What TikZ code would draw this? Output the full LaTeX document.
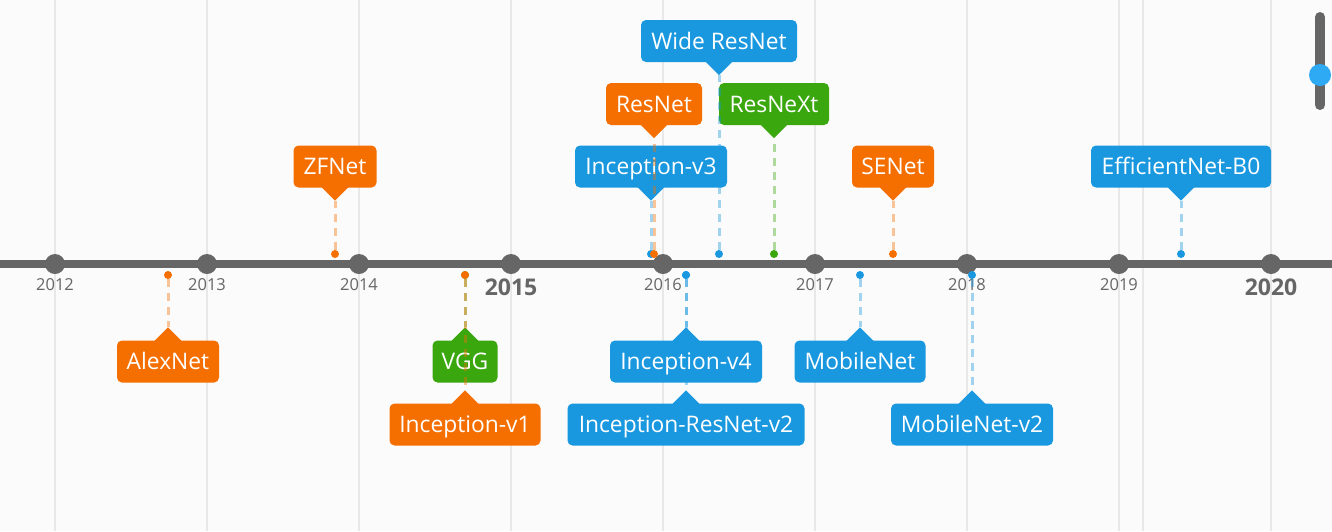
\documentclass[tikz,border=0pt]{standalone}
\usepackage{fontspec}
\setmainfont{Open Sans}
\definecolor{cOr}{HTML}{F56F00}
\definecolor{cBl}{HTML}{1A98DF}
\definecolor{cGr}{HTML}{3AA70F}
\definecolor{cAx}{HTML}{666666}
\definecolor{cGrid}{HTML}{E8E8E8}
\definecolor{cBg}{HTML}{FBFBFB}
\definecolor{cKnob}{HTML}{2EAAF5}
\newcommand\EvAbove[6]{% name, x, box centre y, width, colour, text
  \node[evbox, fill=#5, minimum width=#4pt] (#1) at (#2,#3) {#6};
  \fill[#5] ([xshift=-14pt,yshift=1pt]#1.south) -- ([yshift=-13pt]#1.south) -- ([xshift=14pt,yshift=1pt]#1.south) -- cycle;
  \coordinate (#1-tip) at ([yshift=-13pt]#1.south);
  \node[evdot, fill=#5] (#1-dot) at (#2,254) {};
}
\newcommand\EvBelow[6]{%
  \node[evbox, fill=#5, minimum width=#4pt] (#1) at (#2,#3) {#6};
  \fill[#5] ([xshift=-14pt,yshift=-1pt]#1.north) -- ([yshift=13pt]#1.north) -- ([xshift=14pt,yshift=-1pt]#1.north) -- cycle;
  \coordinate (#1-tip) at ([yshift=13pt]#1.north);
  \node[evdot, fill=#5] (#1-dot) at (#2,275) {};
}
\begin{document}
\begin{tikzpicture}[x=1pt,y=-1pt,
  evbox/.style={rounded corners=5pt, text=white, minimum height=42pt, inner sep=0pt,
    text height=16pt, text depth=0pt, font=\fontsize{22.8}{22.8}\selectfont},
  evdot/.style={circle, inner sep=0pt, minimum size=8pt},
  evline/.style={line width=3pt, dash pattern=on 8pt off 6pt, opacity=0.4},
  yeardot/.style={circle, fill=cAx, inner sep=0pt, minimum size=20pt},
  yearlbl/.style={text=cAx, font=\fontsize{16.5}{16.5}\selectfont, inner sep=0pt},
  majorlbl/.style={text=cAx, font=\bfseries\fontsize{23}{23}\selectfont, inner sep=0pt},
  gridline/.style={draw=cGrid, line width=1.8pt}]
\fill[cBg] (0,0) rectangle (1332,531);
\useasboundingbox (0,0) rectangle (1332,531);
% grid
\foreach \x in {55,207,359,511,663,815,967,1119,1143,1271}
  \draw[gridline] (\x,0) -- (\x,531);
% axis
\draw[cAx, line width=8pt] (0,264) -- (1332,264);
\foreach \x/\yr in {55/2012,207/2013,359/2014,511/2015,663/2016,815/2017,967/2018,1119/2019,1271/2020}
  \node[yeardot] (y\yr) at (\x,264) {};
\foreach \x/\yr in {55/2012,207/2013,359/2014,663/2016,815/2017,967/2018,1119/2019}
  \node[yearlbl] (l\yr) at (\x,285) {\yr};
\node[majorlbl] (l2015) at (511,287) {2015};
\node[majorlbl] (l2020) at (1271,287) {2020};
% events above
\EvAbove{zfnet}{335}{166.5}{83}{cOr}{ZFNet}
\EvAbove{incv3}{651}{166.5}{152}{cBl}{Inception-v3}
\EvAbove{resnet}{654}{104}{96}{cOr}{ResNet}
\EvAbove{wide}{719}{41}{156}{cBl}{Wide ResNet}
\EvAbove{resnext}{774}{104}{110}{cGr}{ResNeXt}
\EvAbove{senet}{893}{166.5}{82}{cOr}{SENet}
\EvAbove{effnet}{1181}{166.5}{180}{cBl}{EfficientNet-B0}
% events below
\EvBelow{alexnet}{168}{361.5}{102}{cOr}{AlexNet}
\EvBelow{vgg}{465}{361.5}{65}{cGr}{VGG}
\EvBelow{incv1}{465}{424.5}{151}{cOr}{Inception-v1}
\EvBelow{incv4}{686}{361.5}{152}{cBl}{Inception-v4}
\EvBelow{incres}{686}{424.5}{237}{cBl}{Inception-ResNet-v2}
\EvBelow{mobile}{860}{361.5}{131}{cBl}{MobileNet}
\EvBelow{mobile2}{972}{424.5}{162}{cBl}{MobileNet-v2}
% connectors
\foreach \n/\c in {zfnet/cOr,incv3/cBl,resnet/cOr,wide/cBl,resnext/cGr,senet/cOr,effnet/cBl,
  alexnet/cOr,vgg/cGr,incv1/cOr,incv4/cBl,incres/cBl,mobile/cBl,mobile2/cBl}
  \draw[evline, draw=\c] (\n-dot) -- (\n-tip);
% slider
\coordinate (stop) at (1320,17);
\coordinate (sbot) at (1320,105);
\draw[cAx, line width=10pt, line cap=round] (stop) -- (sbot);
\node[circle, fill=cKnob, inner sep=0pt, minimum size=22pt] (knob) at (1320,75) {};
\end{tikzpicture}
\end{document}
